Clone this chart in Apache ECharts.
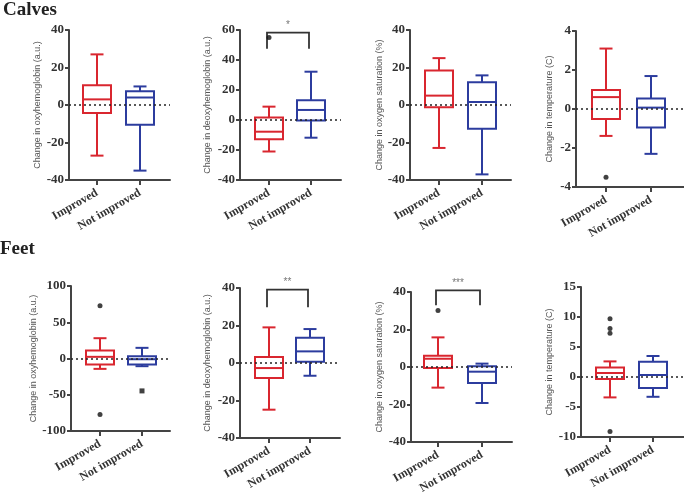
<!DOCTYPE html>
<html><head><meta charset="utf-8">
<script src="https://cdn.jsdelivr.net/npm/echarts@6/dist/echarts.min.js"></script>
<style>html,body{margin:0;padding:0;background:#fff}#c{width:684px;height:497px}</style>
</head><body><div id="c"></div>
<script>
const categories = ['Improved', 'Not improved'];
// box stats: [min, q1, median, q3, max]
const calvesOxyImproved = [-27, -4.3, 3, 10.5, 27];
const calvesOxyNotImproved = [-35, -10.5, 4, 7.4, 9.9];
const calvesDeoxyImproved = [-21, -12.9, -7.8, 1.6, 8.9];
const calvesDeoxyNotImproved = [-11.8, -0.4, 6.7, 13.1, 32.2];
const calvesSatImproved = [-22.9, -1.2, 5, 18.4, 25];
const calvesSatNotImproved = [-37, -12.6, 1.6, 12.2, 15.8];
const calvesTempImproved = [-1.38, -0.51, 0.61, 0.97, 3.1];
const calvesTempNotImproved = [-2.3, -0.95, 0.07, 0.54, 1.69];
const feetOxyImproved = [-14.3, -8.3, 2.3, 11, 28];
const feetOxyNotImproved = [-10.6, -8.3, -1, 3.2, 14.7];
const feetDeoxyImproved = [-24.9, -8, -2.7, 3.2, 19];
const feetDeoxyNotImproved = [-6.8, 0.7, 6.2, 13.5, 18.1];
const feetSatImproved = [-11, -0.5, 4.4, 6, 15.8];
const feetSatNotImproved = [-19.2, -8.5, -2.5, 0.4, 1.8];
const feetTempImproved = [-3.4, -0.33, 0.67, 1.6, 2.6];
const feetTempNotImproved = [-3.3, -1.83, 0.33, 2.55, 3.5];
// outliers: [categoryIndex, value]
const calvesOxyOutliers = [];
const calvesDeoxyOutliers = [[0, 55]];
const calvesSatOutliers = [];
const calvesTempOutliers = [[0, -3.5]];
const feetOxyOutliers = [[0, 72.8], [0, -77.4], [1, -44.7]];
const feetDeoxyOutliers = [];
const feetSatOutliers = [[0, 30.2]];
const feetTempOutliers = [[0, 9.7], [0, 8.1], [0, 7.3], [0, -9.1]];
// significance brackets: [top, bottom, label]
const calvesDeoxySig = [58.2, 47.5, '*'];
const feetDeoxySig = [39.1, 29.7, '**'];
const feetSatSig = [40.9, 32.9, '***'];
const yTitles = [
  'Change in oxyhemoglobin (a.u.)', 'Change in deoxyhemoglobin (a.u.)',
  'Change in oxygen saturation (%)', 'Change in temperature (C)',
  'Change in oxyhemoglobin (a.u.)', 'Change in deoxyhemoglobin (a.u.)',
  'Change in oxygen saturation (%)', 'Change in temperature (C)'
];
const yMin = [-40, -40, -40, -4, -100, -40, -40, -10];
const yMax = [40, 60, 40, 4, 100, 40, 40, 15];
const yInterval = [20, 20, 20, 2, 50, 20, 20, 5];
const sectionTitles = ['Calves', 'Feet'];

const panels = [
  [calvesOxyImproved, calvesOxyNotImproved, calvesOxyOutliers, null],
  [calvesDeoxyImproved, calvesDeoxyNotImproved, calvesDeoxyOutliers, calvesDeoxySig],
  [calvesSatImproved, calvesSatNotImproved, calvesSatOutliers, null],
  [calvesTempImproved, calvesTempNotImproved, calvesTempOutliers, null],
  [feetOxyImproved, feetOxyNotImproved, feetOxyOutliers, null],
  [feetDeoxyImproved, feetDeoxyNotImproved, feetDeoxyOutliers, feetDeoxySig],
  [feetSatImproved, feetSatNotImproved, feetSatOutliers, feetSatSig],
  [feetTempImproved, feetTempNotImproved, feetTempOutliers, null]
];

// layout (pixels): left, right, top, bottom, centre0, centre1, nameGap
const layout = [
  [69, 170, 30, 180, 97, 140, 27],
  [240, 341, 30, 180, 269, 311, 28],
  [410, 511, 30, 180, 439, 482, 26],
  [576, 684, 31, 187, 606, 651, 22],
  [71, 170, 286, 431, 100, 142, 30],
  [240, 340, 288, 438, 269, 310, 28],
  [411, 512, 292, 442, 438, 482, 27],
  [581, 684, 287, 437, 610, 653, 27]
];

const boxColors = ['#d9262f', '#2c3c9e'];
const axisColor = '#444';
const tickFont = { fontFamily: 'Liberation Serif', fontWeight: 'bold', fontSize: 13, color: '#333' };
const catFont = { fontFamily: 'Liberation Serif', fontWeight: 'bold', fontSize: 12, color: '#333' };

function renderBox(params, api) {
  const x = api.value(0);
  const v = [api.value(1), api.value(2), api.value(3), api.value(4), api.value(5)];
  const p = v.map(val => api.coord([x, val]));
  const cx = p[0][0];
  const hw = 14, cw = 6.5;
  const color = boxColors[x];
  const st = { stroke: color, lineWidth: 2, fill: 'none' };
  return {
    type: 'group',
    children: [
      { type: 'line', shape: { x1: cx, y1: p[4][1], x2: cx, y2: p[3][1] }, style: st },
      { type: 'line', shape: { x1: cx, y1: p[1][1], x2: cx, y2: p[0][1] }, style: st },
      { type: 'line', shape: { x1: cx - cw, y1: p[4][1], x2: cx + cw, y2: p[4][1] }, style: st },
      { type: 'line', shape: { x1: cx - cw, y1: p[0][1], x2: cx + cw, y2: p[0][1] }, style: st },
      { type: 'rect', shape: { x: cx - hw, y: p[3][1], width: 2 * hw, height: p[1][1] - p[3][1] }, style: st },
      { type: 'line', shape: { x1: cx - hw, y1: p[2][1], x2: cx + hw, y2: p[2][1] }, style: st }
    ]
  };
}

function renderSig(params, api) {
  const top = api.value(0), bottom = api.value(1);
  const label = api.value(2);
  const a = api.coord([0, top]), b = api.coord([1, top]);
  const a2 = api.coord([0, bottom]);
  const x0 = a[0] - 2, x1 = b[0] - 2;
  return {
    type: 'group',
    children: [
      { type: 'polyline', shape: { points: [[x0, a2[1]], [x0, a[1]], [x1, a[1]], [x1, a2[1]]] },
        style: { stroke: '#333', lineWidth: 1.8, fill: 'none' } },
      { type: 'text', style: { text: label, x: (x0 + x1) / 2, y: a[1] - 2, align: 'center', verticalAlign: 'bottom',
        fontSize: 10, fontFamily: 'Liberation Sans', fill: '#777' } }
    ]
  };
}

const grid = [], xAxis = [], yAxis = [], series = [];
panels.forEach((pn, i) => {
  const [L, R, T, B, c0, c1, gap] = layout[i];
  const d = c1 - c0;
  grid.push({ left: L, top: T, width: R - L, height: B - T });
  xAxis.push({
    type: 'value', gridIndex: i, min: -(c0 - L) / d, max: 1 + (R - c1) / d,
    axisLine: { show: true, onZero: false, lineStyle: { color: axisColor, width: 2 } },
    axisTick: { show: true, customValues: [0, 1], length: 5, lineStyle: { color: axisColor, width: 2 } },
    axisLabel: Object.assign({ customValues: [0, 1], formatter: v => categories[Math.round(v)], rotate: 30, margin: 12 }, catFont),
    splitLine: { show: false }
  });
  yAxis.push({
    type: 'value', gridIndex: i, min: yMin[i], max: yMax[i], interval: yInterval[i],
    name: yTitles[i], nameLocation: 'middle', nameGap: gap,
    nameTextStyle: { fontFamily: 'Liberation Sans Narrow, Liberation Sans', fontSize: 9, color: '#555' },
    axisLine: { show: true, onZero: false, lineStyle: { color: axisColor, width: 2 } },
    axisTick: { show: true, length: 4, lineStyle: { color: axisColor, width: 2 } },
    axisLabel: Object.assign({ margin: 5 }, tickFont),
    splitLine: { show: false }
  });
  const boxData = [[0].concat(pn[0]), [1].concat(pn[1])];
  series.push({
    type: 'custom', xAxisIndex: i, yAxisIndex: i, renderItem: renderBox, data: boxData, clip: false, silent: true
  });
  series.push({
    type: 'scatter', xAxisIndex: i, yAxisIndex: i, silent: true,
    data: pn[2].map(o => ({ value: o, symbol: o[0] === 0 ? 'circle' : 'rect' })),
    symbolSize: 5, itemStyle: { color: '#111' },
    markLine: {
      silent: true, symbol: ['none', 'none'], label: { show: false },
      lineStyle: { type: [2, 3], color: '#222', width: 1.5 },
      data: [{ yAxis: 0 }], z: 5
    }
  });
  if (pn[3]) {
    series.push({
      type: 'custom', xAxisIndex: i, yAxisIndex: i, renderItem: renderSig, clip: false, silent: true,
      data: [pn[3]]
    });
  }
});

const chart = echarts.init(document.getElementById('c'));
chart.setOption({
  animation: false,
  backgroundColor: '#fff',
  title: [
    { text: sectionTitles[0], left: 3, top: 1, padding: 0, textStyle: { fontFamily: 'Liberation Serif', fontWeight: 'bold', fontSize: 19, color: '#222' } },
    { text: sectionTitles[1], left: 0, top: 240, padding: 0, textStyle: { fontFamily: 'Liberation Serif', fontWeight: 'bold', fontSize: 19, color: '#222' } }
  ],
  grid, xAxis, yAxis, series
});
</script></body></html>
